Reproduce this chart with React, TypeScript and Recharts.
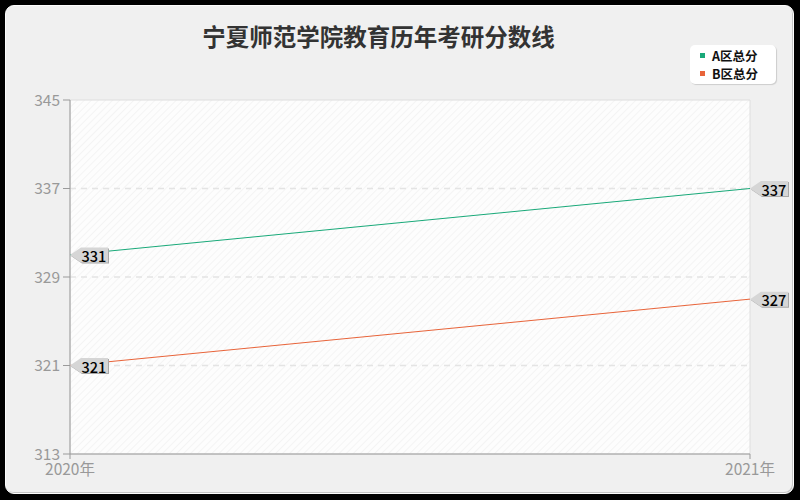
import React from 'react';
import { CartesianGrid, LabelList, Line, LineChart, ReferenceArea, XAxis, YAxis } from 'recharts';

const years = ['2020年', '2021年'];
const scoreA = [331, 337];
const scoreB = [321, 327];
const yTicks = [313, 321, 329, 337, 345];
const seriesNames = ['A区总分', 'B区总分'];
const seriesColors = ['#19a979', '#e8643a'];

const data = years.map((year, i) => ({ year, a: scoreA[i], b: scoreB[i] }));

const FONT = '"Noto Sans CJK SC", "Noto Sans", sans-serif';

// grey callout tag pointing left at the data point
function renderTag(props: any) {
  const x = Number(props.x);
  const y = Number(props.y);
  const pts = [
    [x, y],
    [x + 11, y - 7.5],
    [x + 38, y - 7.5],
    [x + 38, y + 7.5],
    [x + 11, y + 7.5],
  ]
    .map((p) => p.join(','))
    .join(' ');
  return (
    <g>
      <polygon points={pts} fill="#a8a8a8" transform="translate(1,1)" />
      <polygon points={pts} fill="#d6d6d6" />
      <text
        x={x + 24}
        y={y + 0.5}
        textAnchor="middle"
        dominantBaseline="central"
        fontSize={14.5}
        fontFamily={FONT}
        fontWeight={500}
        fill="#000"
      >
        {props.value}
      </text>
    </g>
  );
}

function LegendBox() {
  return (
    <div
      style={{
        position: 'absolute',
        left: 690,
        top: 45,
        width: 86,
        boxSizing: 'border-box',
        background: '#fff',
        borderRadius: 5,
        boxShadow: '1px 1px 1px rgba(0,0,0,0.15)',
        padding: '2px 0 2px 10px',
        fontFamily: FONT,
        fontSize: 12.5,
        fontWeight: 700,
        color: '#111',
        lineHeight: '17.5px',
      }}
    >
      {seriesNames.map((name, i) => (
        <div key={name} style={{ display: 'flex', alignItems: 'center' }}>
          <span style={{ width: 5, height: 5, background: seriesColors[i], marginRight: 7 }} />
          {name}
        </div>
      ))}
    </div>
  );
}

export default function App() {
  return (
    <div style={{ position: 'relative', width: 800, height: 500, background: '#000', fontFamily: FONT }}>
      <style>{'body{margin:0}'}</style>
      <div
        style={{
          position: 'absolute',
          left: 5,
          top: 5,
          width: 789,
          height: 489,
          boxSizing: 'border-box',
          background: '#f0f0f0',
          borderRadius: 9,
          border: '1px solid #fdfdfd',
          boxShadow: 'inset -1px -1px 0 #c4c4c4',
        }}
      />
      <div
        style={{
          position: 'absolute',
          left: 0,
          width: 757,
          top: 21,
          textAlign: 'center',
          fontSize: 23.5,
          fontWeight: 700,
          color: '#333',
          lineHeight: '30px',
        }}
      >
        宁夏师范学院教育历年考研分数线
      </div>
      <div style={{ position: 'absolute', left: 0, top: 0 }}>
        <LineChart width={800} height={500} data={data} margin={{ top: 100, right: 50, bottom: 0, left: 0 }}>
          <defs>
            <pattern id="hatch" width="5" height="5" patternUnits="userSpaceOnUse" patternTransform="rotate(45)">
              <rect width="5" height="5" fill="#fdfdfd" />
              <line x1="0" y1="0" x2="0" y2="5" stroke="#f1f1f1" strokeWidth="1.5" />
            </pattern>
          </defs>
          <CartesianGrid
            vertical={false}
            horizontalValues={[321, 329, 337]}
            fill="url(#hatch)"
            fillOpacity={1}
            stroke="#e4e4e4"
            strokeWidth={1.5}
            strokeDasharray="6 5"
          />
          <ReferenceArea x1={years[0]} x2={years[1]} y1={313} y2={345} fill="none" stroke="#dedede" ifOverflow="visible" />
          <XAxis
            dataKey="year"
            height={46}
            tickSize={5}
            tickMargin={5}
            stroke="#9a9a9a"
            tick={{ fill: '#999', fontSize: 15.5, fontFamily: FONT }}
            interval={0}
          />
          <YAxis
            width={70}
            domain={[313, 345]}
            ticks={yTicks}
            tickSize={7}
            tickMargin={3}
            stroke="#9a9a9a"
            tick={{ fill: '#999', fontSize: 15.5, fontFamily: FONT }}
            interval={0}
          />
          <Line
            type="linear"
            dataKey="a"
            name={seriesNames[0]}
            stroke={seriesColors[0]}
            strokeWidth={1}
            dot={false}
            activeDot={false}
            isAnimationActive={false}
          >
            <LabelList dataKey="a" content={renderTag} />
          </Line>
          <Line
            type="linear"
            dataKey="b"
            name={seriesNames[1]}
            stroke={seriesColors[1]}
            strokeWidth={1}
            dot={false}
            activeDot={false}
            isAnimationActive={false}
          >
            <LabelList dataKey="b" content={renderTag} />
          </Line>
        </LineChart>
      </div>
      <LegendBox />
    </div>
  );
}
